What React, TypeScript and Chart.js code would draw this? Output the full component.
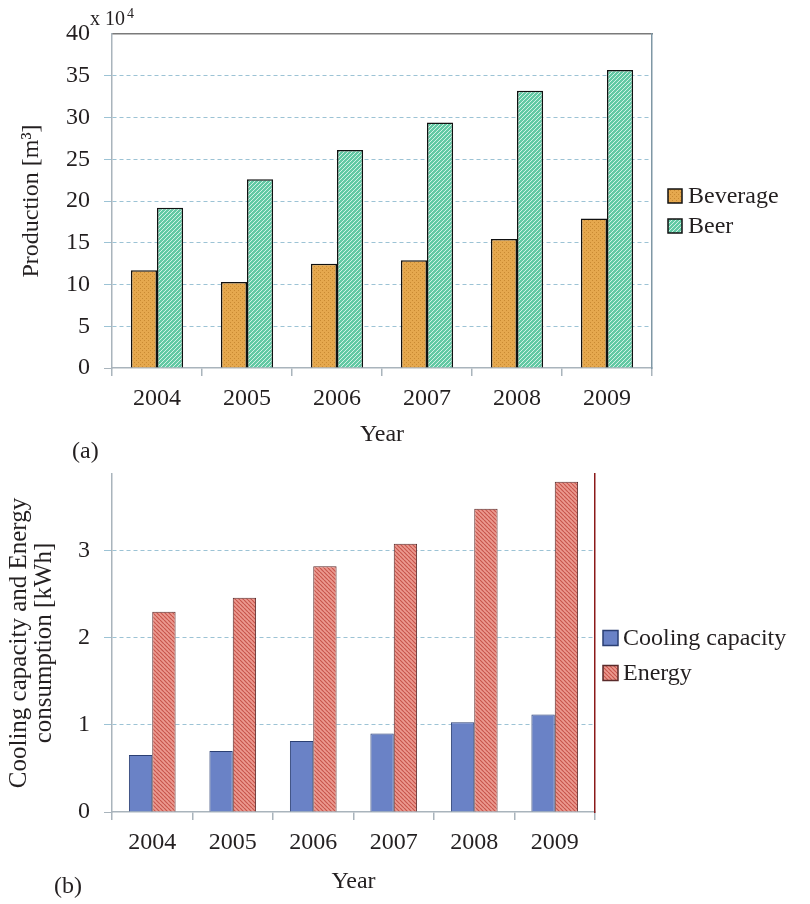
import React, { useEffect, useRef } from "react";
import { Chart, registerables } from "chart.js";

Chart.register(...registerables);

// ---------- data ----------
const years = ["2004", "2005", "2006", "2007", "2008", "2009"];
// production, in units of 10^4 m3
const beverage = [11.7, 10.3, 12.5, 12.9, 15.45, 17.9];
const beer = [19.2, 22.6, 26.1, 29.4, 33.2, 35.7];
// kWh
const cooling = [0.655, 0.7, 0.815, 0.9, 1.03, 1.12];
const energy = [2.3, 2.46, 2.82, 3.08, 3.48, 3.79];

const FONT = "'Liberation Serif', 'Times New Roman', serif";
const TEXT = "#231f20";
const GRID = "#9cc3d5";
const AXIS = "#a9b4bc";

function makeDots(bg: string, fg: string): CanvasPattern | string {
  const c = document.createElement("canvas");
  c.width = 4;
  c.height = 4;
  const g = c.getContext("2d");
  if (!g) return bg;
  g.fillStyle = bg;
  g.fillRect(0, 0, 4, 4);
  g.fillStyle = fg;
  g.fillRect(0, 0, 1, 1);
  g.fillRect(2, 2, 1, 1);
  return g.createPattern(c, "repeat") || bg;
}

function makeHatch(bg: string, fg: string, slash: boolean, s: number, lw: number): CanvasPattern | string {
  const c = document.createElement("canvas");
  c.width = s;
  c.height = s;
  const g = c.getContext("2d");
  if (!g) return bg;
  g.fillStyle = bg;
  g.fillRect(0, 0, s, s);
  g.strokeStyle = fg;
  g.lineWidth = lw;
  for (const k of [-s, 0, s]) {
    g.beginPath();
    if (slash) {
      g.moveTo(k, s);
      g.lineTo(k + s, 0);
    } else {
      g.moveTo(k, 0);
      g.lineTo(k + s, s);
    }
    g.stroke();
  }
  return g.createPattern(c, "repeat") || bg;
}

function legendPlugin(id: string, dx: number, y0: number, gap: number, box: number, textGap: number) {
  return {
    id,
    afterDraw(chart: any) {
      const { ctx, chartArea } = chart;
      ctx.save();
      ctx.font = `24px ${FONT}`;
      ctx.textBaseline = "middle";
      ctx.textAlign = "left";
      chart.data.datasets.forEach((ds: any, i: number) => {
        const x = chartArea.right + dx;
        const y = y0 + i * gap;
        ctx.fillStyle = ds.backgroundColor;
        ctx.fillRect(x, y - box / 2, box, box);
        ctx.strokeStyle = ds.borderColor;
        ctx.lineWidth = 1.5;
        ctx.strokeRect(x, y - box / 2, box, box);
        ctx.fillStyle = TEXT;
        ctx.fillText(ds.label, x + box + textGap, y + 1);
      });
      ctx.restore();
    },
  };
}

const exponentPlugin = {
  id: "exponentLabel",
  afterDraw(chart: any) {
    const { ctx, chartArea } = chart;
    ctx.save();
    ctx.fillStyle = TEXT;
    ctx.textBaseline = "middle";
    ctx.textAlign = "left";
    ctx.font = `20px ${FONT}`;
    ctx.fillText("x 10", chartArea.left - 22, chartArea.top - 14);
    const w = ctx.measureText("x 10").width;
    ctx.font = `14px ${FONT}`;
    ctx.fillText("4", chartArea.left - 22 + w + 2, chartArea.top - 20);
    ctx.restore();
  },
};

function baseX(titlePadBottom: number) {
  return {
    type: "category" as const,
    position: "bottom" as const,
    afterFit: (s: any) => {
      s.height = 92;
    },
    grid: {
      display: true,
      drawOnChartArea: false,
      drawTicks: true,
      tickLength: 8,
      color: AXIS,
      lineWidth: 1.5,
    },
    border: { display: true, color: AXIS, width: 1.5 },
    ticks: { color: TEXT, font: { family: FONT, size: 24 }, padding: 8 },
    title: {
      display: true,
      text: "Year",
      color: TEXT,
      font: { family: FONT, size: 24 },
      padding: { top: 0, bottom: titlePadBottom },
    },
  };
}

function topX(height: number, showBorder: boolean, color: string) {
  return {
    type: "category" as const,
    position: "top" as const,
    afterFit: (s: any) => {
      s.height = height;
    },
    grid: { display: false },
    ticks: { display: false },
    border: { display: showBorder, color, width: 1.5 },
  };
}

function ChartA() {
  const ref = useRef<HTMLCanvasElement>(null);
  useEffect(() => {
    if (!ref.current) return;
    const bevFill = makeDots("#e5a84e", "#c98a32");
    const beerFill = makeHatch("#62c9a4", "#d2f2e6", true, 4, 1);
    const chart = new Chart(ref.current, {
      type: "bar",
      data: {
        labels: years,
        datasets: [
          {
            label: "Beverage",
            data: beverage,
            backgroundColor: bevFill as any,
            borderColor: "#111111",
            borderWidth: 1.5,
            categoryPercentage: 0.58,
            barPercentage: 1,
          },
          {
            label: "Beer",
            data: beer,
            backgroundColor: beerFill as any,
            borderColor: "#111111",
            borderWidth: 1.5,
            categoryPercentage: 0.58,
            barPercentage: 1,
          },
        ],
      },
      options: {
        animation: false,
        responsive: false,
        maintainAspectRatio: false,
        layout: { padding: 0 },
        plugins: { legend: { display: false }, tooltip: { enabled: false } },
        scales: {
          x: baseX(11) as any,
          x2: topX(34, true, "#7a7a7a") as any,
          y: {
            type: "linear",
            position: "left",
            min: 0,
            max: 40,
            afterFit: (s: any) => {
              s.width = 112;
              s.paddingTop = 0;
              s.paddingBottom = 0;
            },
            ticks: { stepSize: 5, color: TEXT, font: { family: FONT, size: 24 }, padding: 14 },
            grid: {
              color: (c: any) => (c.tick && (c.tick.value === 0 || c.tick.value === 40) ? "rgba(0,0,0,0)" : GRID),
              tickColor: (c: any) =>
                c.tick && c.tick.value === 0 ? AXIS : c.tick && c.tick.value === 40 ? "rgba(0,0,0,0)" : GRID,
              lineWidth: 1,
              tickLength: 8,
            },
            border: { display: true, color: AXIS, width: 1.5, dash: [4, 3] },
            title: {
              display: true,
              text: "Production [m³]",
              color: TEXT,
              font: { family: FONT, size: 24 },
              padding: { top: 17, bottom: 0 },
            },
          },
          y2: {
            type: "linear",
            position: "right",
            afterFit: (s: any) => {
              s.width = 158;
              s.paddingTop = 0;
              s.paddingBottom = 0;
            },
            grid: { display: false },
            ticks: { display: false },
            border: { display: true, color: "#7f97a5", width: 1.5 },
          },
        },
      },
      plugins: [legendPlugin("legendA", 16, 196, 30, 14, 6), exponentPlugin],
    });
    return () => chart.destroy();
  }, []);
  return (
    <canvas
      ref={ref}
      width={810}
      height={460}
      style={{ position: "absolute", left: 0, top: 0, width: 810, height: 460 }}
    />
  );
}

function ChartB() {
  const ref = useRef<HTMLCanvasElement>(null);
  useEffect(() => {
    if (!ref.current) return;
    const energyFill = makeHatch("#ec9a90", "#c8564c", false, 4, 1.2);
    const chart = new Chart(ref.current, {
      type: "bar",
      data: {
        labels: years,
        datasets: [
          {
            label: "Cooling capacity",
            data: cooling,
            backgroundColor: "#6a82c6",
            borderColor: "#2b3f73",
            borderWidth: 1,
            categoryPercentage: 0.58,
            barPercentage: 1,
          },
          {
            label: "Energy",
            data: energy,
            backgroundColor: energyFill as any,
            borderColor: "#5a2a2a",
            borderWidth: 1,
            categoryPercentage: 0.58,
            barPercentage: 1,
          },
        ],
      },
      options: {
        animation: false,
        responsive: false,
        maintainAspectRatio: false,
        layout: { padding: 0 },
        plugins: { legend: { display: false }, tooltip: { enabled: false } },
        scales: {
          x: baseX(8) as any,
          x2: topX(14, false, "rgba(0,0,0,0)") as any,
          y: {
            type: "linear",
            position: "left",
            min: 0,
            max: 3.88,
            afterFit: (s: any) => {
              s.width = 112;
              s.paddingTop = 0;
              s.paddingBottom = 0;
            },
            ticks: {
              stepSize: 1,
              includeBounds: false,
              color: TEXT,
              font: { family: FONT, size: 24 },
              padding: 14,
            },
            grid: {
              color: (c: any) => (c.tick && c.tick.value === 0 ? "rgba(0,0,0,0)" : GRID),
              tickColor: (c: any) => (c.tick && c.tick.value === 0 ? AXIS : GRID),
              lineWidth: 1,
              tickLength: 8,
            },
            border: { display: true, color: AXIS, width: 1.5, dash: [4, 3] },
            title: {
              display: true,
              text: ["Cooling capacity and Energy", "consumption [kWh]"],
              color: TEXT,
              font: { family: FONT, size: 25, lineHeight: 1.0 },
              padding: { top: 7, bottom: 0 },
            },
          },
          y2: {
            type: "linear",
            position: "right",
            afterFit: (s: any) => {
              s.width = 215;
              s.paddingTop = 0;
              s.paddingBottom = 0;
            },
            grid: { display: false },
            ticks: { display: false },
            border: { display: true, color: "#8b1a1a", width: 1.5 },
          },
        },
      },
      plugins: [legendPlugin("legendB", 8, 178, 35, 15, 5)],
    });
    return () => chart.destroy();
  }, []);
  return (
    <canvas
      ref={ref}
      width={810}
      height={444}
      style={{ position: "absolute", left: 0, top: 460, width: 810, height: 444 }}
    />
  );
}

function PanelLabel({ text, left, top }: { text: string; left: number; top: number }) {
  return (
    <div
      style={{
        position: "absolute",
        left,
        top,
        fontFamily: FONT,
        fontSize: 24,
        color: TEXT,
        lineHeight: "24px",
        whiteSpace: "nowrap",
      }}
    >
      {text}
    </div>
  );
}

export default function App() {
  return (
    <div
      style={{
        position: "absolute",
        left: 0,
        top: 0,
        width: 810,
        height: 904,
        background: "#ffffff",
        overflow: "hidden",
      }}
    >
      <ChartA />
      <ChartB />
      <PanelLabel text="(a)" left={72} top={438} />
      <PanelLabel text="(b)" left={54} top={873} />
    </div>
  );
}
